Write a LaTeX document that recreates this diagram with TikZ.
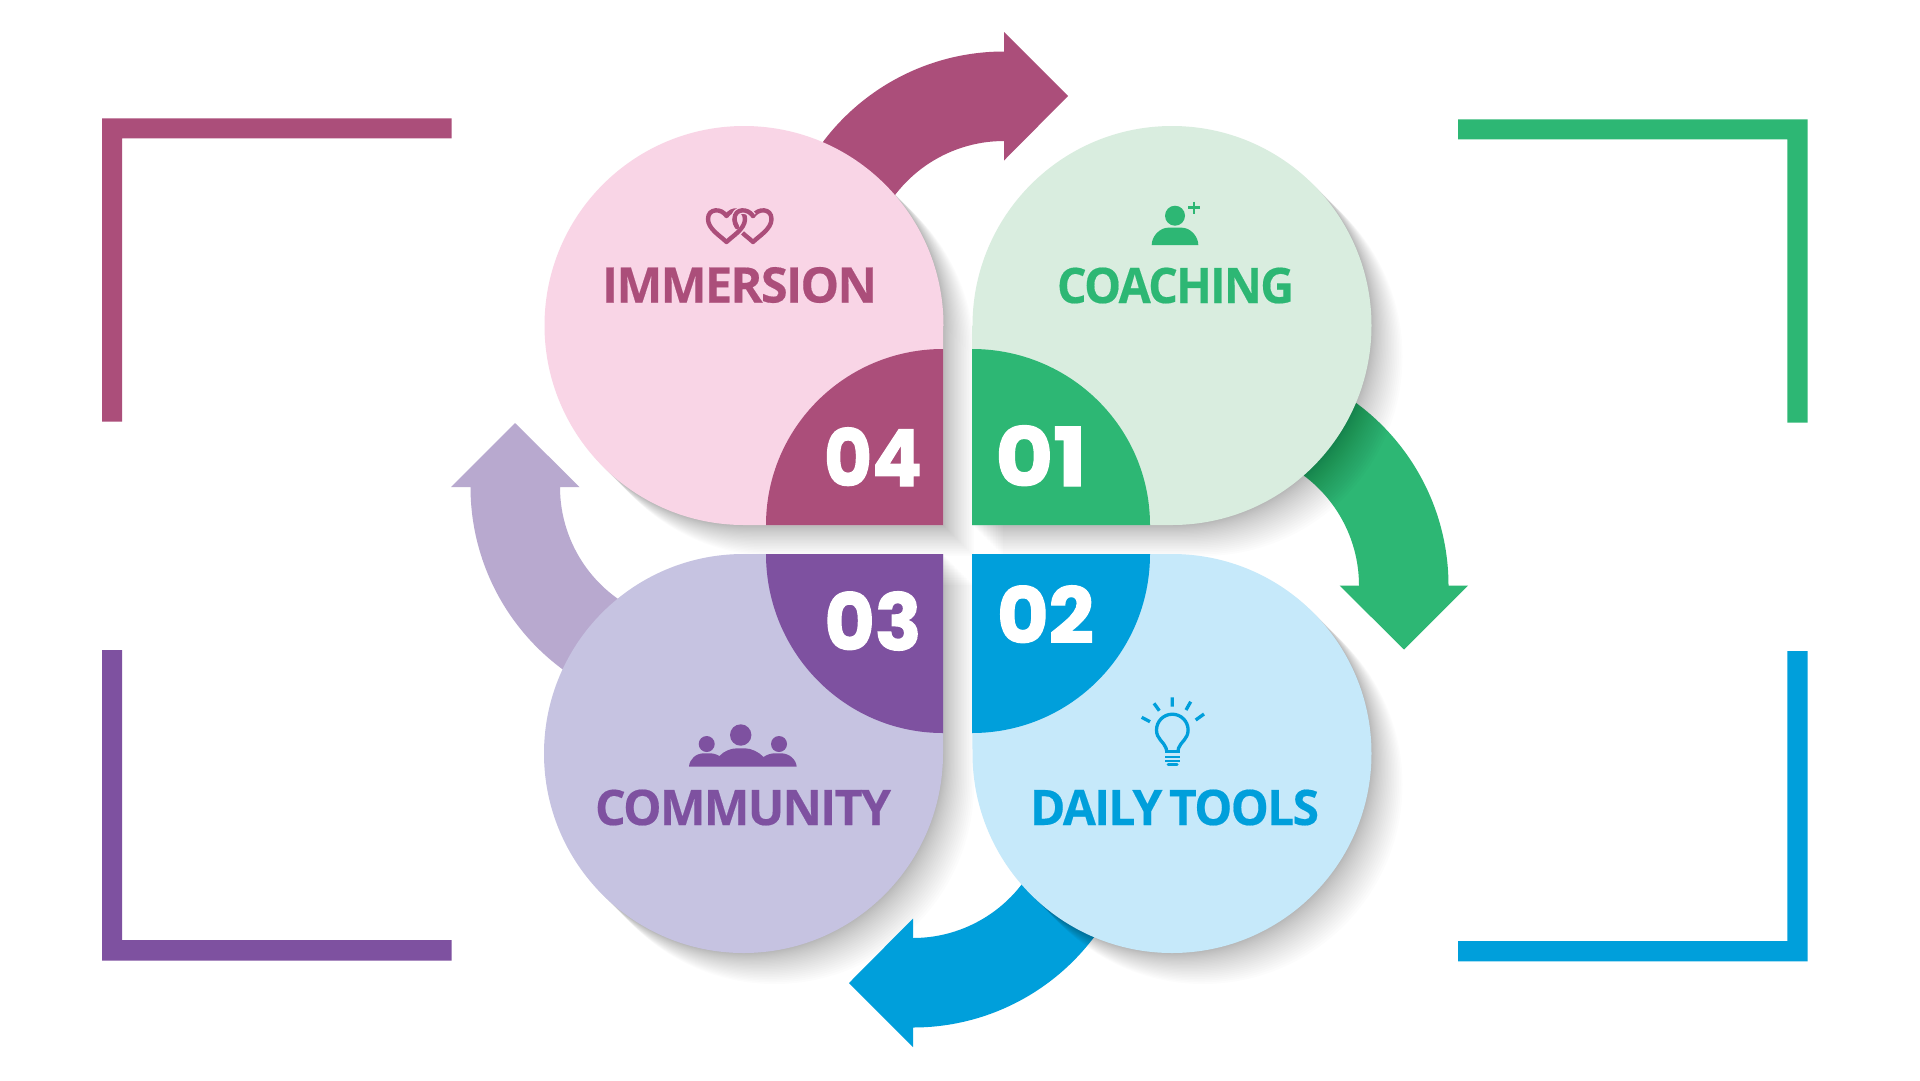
\documentclass[tikz,border=0pt]{standalone}
\usepackage{fontspec}
\usepackage{graphicx}
\newfontfamily\labfont{Open Sans}[BoldFeatures={LetterSpace=-3.5,FakeBold=0.35}]
\newfontfamily\numfont{Poppins}[BoldFeatures={FakeBold=1.5}]
\definecolor{magD}{HTML}{AB4E7A}
\definecolor{magL}{HTML}{F9D5E6}
\definecolor{grnD}{HTML}{2DB774}
\definecolor{grnL}{HTML}{D9EDDF}
\definecolor{bluD}{HTML}{009FDB}
\definecolor{bluL}{HTML}{C6E9FA}
\definecolor{purD}{HTML}{7E51A0}
\definecolor{purL}{HTML}{C6C3E1}
\definecolor{purA}{HTML}{B8A9CF}
\newcommand{\arrowband}[4]{%
  \begin{scope}[shift={(#1,#2)},rotate=#3]
    \fill[#4] (200:226.5) arc[start angle=200,end angle=270,radius=226.5]
      -- (0,-246) -- (64,-182) -- (0,-117.5) -- (0,-137)
      arc[start angle=270,end angle=200,radius=137] -- cycle;
  \end{scope}}
\newcommand{\petalImm}{(943,326) -- (943,525) -- (744,525) arc[start angle=90,end angle=360,radius=199.5]}
\newcommand{\petalCoa}{(972,326) -- (972,525) -- (1172,525) arc[start angle=90,end angle=-180,radius=199.5]}
\newcommand{\petalDai}{(1172,554) arc[start angle=-90,end angle=180,radius=199.5] -- (972,554)}
\newcommand{\petalCom}{(943,753.5) arc[start angle=0,end angle=270,radius=199.5] -- (943,554)}
\newcommand{\softshadow}[1]{%
  \foreach \i in {1,...,24}{%
    \pgfmathsetmacro{\dd}{31*(\i/24)^1.35}%
    \fill[black,fill opacity=0.0135,shift={(\dd,\dd)}] #1 -- cycle;
  }}
\newcommand{\heartpath}[1]{(#1,242) .. controls (#1-6,236) and (#1-18.5,229) .. (#1-18.5,219)
     .. controls (#1-18.5,208) and (#1-5,208) .. (#1,216) .. controls (#1+5,208) and (#1+18.5,208) .. (#1+18.5,219)
     .. controls (#1+18.5,229) and (#1+6,236) .. (#1,242)}
\tikzset{
  word/.style={inner sep=0pt,outer sep=0pt,anchor=base,font=\labfont\bfseries\fontsize{48}{48}\selectfont},
  numeral/.style={inner sep=0pt,outer sep=0pt,anchor=base,text=white,font=\numfont\bfseries\fontsize{82}{82}\selectfont},
}
\begin{document}
\begin{tikzpicture}[x=1pt,y=-1pt]
\useasboundingbox (0,0) rectangle (1920,1080);
\fill[white] (0,0) rectangle (1920,1080);
% brackets
\fill[magD] (451.7,118.3) -- (102,118.3) -- (102,421.7) -- (122,421.7) -- (122,138.3) -- (451.7,138.3) -- cycle;
\fill[grnD] (1458,119.3) -- (1807.7,119.3) -- (1807.7,422.7) -- (1787.3,422.7) -- (1787.3,139.3) -- (1458,139.3) -- cycle;
\fill[purD] (102,650) -- (122,650) -- (122,940) -- (451.7,940) -- (451.7,960.7) -- (102,960.7) -- cycle;
\fill[bluD] (1807.7,651) -- (1787.3,651) -- (1787.3,941) -- (1458,941) -- (1458,961.3) -- (1807.7,961.3) -- cycle;
% shadows and arrows
\softshadow{\petalImm}
\softshadow{\petalCom}
\arrowband{1004}{278}{0}{magD}
\arrowband{1222}{585.5}{-90}{grnD}
\arrowband{913}{801}{180}{bluD}
\arrowband{697}{487}{90}{purA}
\softshadow{\petalCoa}
\softshadow{\petalDai}
% petals
\fill[magL] \petalImm -- cycle;
\fill[grnL] \petalCoa -- cycle;
\fill[bluL] \petalDai -- cycle;
\fill[purL] \petalCom -- cycle;
% quarter discs
\fill[magD] (943,525) -- (766,525) arc[start angle=180,end angle=270,x radius=177,y radius=176] -- cycle;
\fill[grnD] (972,525) -- (972,349) arc[start angle=-90,end angle=0,x radius=178,y radius=176] -- cycle;
\fill[bluD] (972,554) -- (1150,554) arc[start angle=0,end angle=90,x radius=178,y radius=179] -- cycle;
\fill[purD] (943,554) -- (943,733) arc[start angle=90,end angle=180,x radius=177,y radius=179] -- cycle;
% numerals
\node[numeral] (n04) at (873,486) {\resizebox{98pt}{58.5pt}{04}};
\node[numeral] (n01) at (1041,486) {\resizebox{91pt}{60.5pt}{01}};
\node[numeral] (n02) at (1045.5,643) {\resizebox{97pt}{57.5pt}{02}};
\node[numeral] (n03) at (873,650) {\resizebox{97pt}{58.5pt}{03}};
% words
\node[word,text=magD] (wImm) at (739.5,302.5) {\resizebox{275pt}{35.5pt}{IMMERSION}};
\node[word,text=grnD] (wCoa) at (1175.5,303) {\resizebox{237pt}{35.5pt}{COACHING}};
\node[word,text=bluD] (wDai) at (1174.5,825) {\resizebox{289pt}{35.5pt}{DAILY\hspace{-4pt} TOOLS}};
\node[word,text=purD] (wCom) at (743,825) {\resizebox{296pt}{35.5pt}{COMMUNITY}};
% heart icon
\begin{scope}[magD,line width=4.4pt,line join=round,line cap=round]
  \draw \heartpath{753};
  \draw[magL,line width=7.5pt,line cap=butt] (745,219) .. controls (745,229) and (732.5,236) .. (726.5,242);
  \draw \heartpath{726.5};
  \draw[magL,line width=7pt,line cap=butt] (753,216) .. controls (748,208) and (734.5,208) .. (734.5,219);
  \draw (753,216) .. controls (748,208) and (734.5,208) .. (734.5,219) .. controls (734.5,222) and (735.5,225) .. (737,227);
\end{scope}
% person icon
\fill[grnD] (1175,215.7) circle[radius=10];
\fill[grnD] (1151.7,245) .. controls (1151.7,236) and (1160,227.7) .. (1168,227.7) -- (1182,227.7) .. controls (1190,227.7) and (1198.3,236) .. (1198.3,245) -- cycle;
\draw[grnD,line width=2.6pt] (1188,207.7) -- (1200,207.7) (1194,201.7) -- (1194,213.7);
% group icon
\fill[purD] (740.7,735) circle[radius=10.7] (706.7,744) circle[radius=8] (779,744) circle[radius=8];
\fill[purD] (689,766.7) .. controls (689.5,759) and (696,753.3) .. (704,753.3) -- (709,753.3) .. controls (713,753.3) and (716,754) .. (719.5,756)
  .. controls (724,751) and (731,748.3) .. (737,748.3) -- (745,748.3) .. controls (751,748.3) and (759,752) .. (763.5,757)
  .. controls (767,754.5) and (771,753.3) .. (775,753.3) -- (781,753.3) .. controls (789,753.3) and (796,759) .. (796.7,766.7) -- cycle;
% bulb icon
\begin{scope}[bluD,line width=3.3pt]
  \draw (1166.7,751) -- (1166,748) .. controls (1164,742) and (1156.5,739) .. (1156.5,730)
    arc[start angle=180,end angle=360,radius=15.8]
    .. controls (1188.1,739) and (1180.6,742) .. (1178.6,748) -- (1178,751);
  \draw (1165,751.5) -- (1179.6,751.5);
  \draw[line width=2.4pt] (1165,757) -- (1180,757) (1165,761) -- (1180,761);
  \draw[line width=3pt,line cap=round] (1168,764.3) -- (1177,764.3);
  \draw (1172.3,697.3) -- (1172.3,706.7) (1154,703.3) -- (1159.3,710.7) (1190.7,701.7) -- (1186,710)
        (1141.7,717.3) -- (1150,721.7) (1204,714) -- (1195.7,720);
\end{scope}
\end{tikzpicture}
\end{document}
